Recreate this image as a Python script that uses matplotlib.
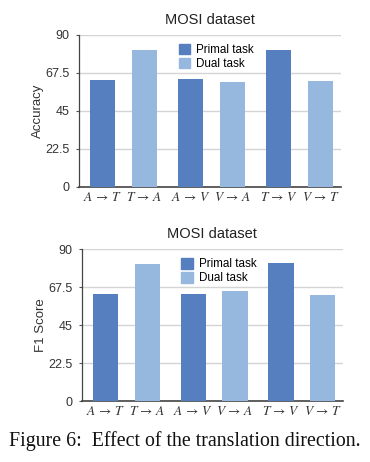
import numpy as np
import matplotlib
matplotlib.use("Agg")
import matplotlib.pyplot as plt
from matplotlib.patches import Patch

plt.rcParams['font.family'] = ['Liberation Sans', 'DejaVu Sans']
plt.rcParams['mathtext.fontset'] = 'stix'

directions = [r'$A\,\rightarrow\,T$', r'$T\,\rightarrow\,A$', r'$A\,\rightarrow\,V$',
              r'$V\,\rightarrow\,A$', r'$T\,\rightarrow\,V$', r'$V\,\rightarrow\,T$']
task = ['primal', 'dual', 'primal', 'dual', 'primal', 'dual']
accuracy = [63.2, 80.9, 63.8, 62.0, 80.9, 62.6]
f1_score = [63.4, 81.1, 63.4, 65.1, 81.7, 62.8]
yticks = [0, 22.5, 45, 67.5, 90]
yticklabels = ['0', '22.5', '45', '67.5', '90']

primal_color = '#567fbf'
dual_color = '#96b8df'

# pairs of bars, a bit more space between pairs
x = np.array([i // 2 * 2.1 + i % 2 for i in range(len(directions))])
colors = [primal_color if t == 'primal' else dual_color for t in task]

fig = plt.figure(figsize=(3.7, 4.62), dpi=100)
ax1 = fig.add_axes([0.2135, 0.596, 0.708, 0.329])
ax2 = fig.add_axes([0.2216, 0.132, 0.705, 0.329])

for ax, vals, ylabel in [(ax1, accuracy, 'Accuracy'), (ax2, f1_score, 'F1 Score')]:
    ax.bar(x, vals, width=0.6, color=colors, zorder=3)
    ax.set_xlim(-0.56, 5.68)
    ax.set_ylim(0, 90)
    ax.set_yticks(yticks)
    ax.set_yticklabels(yticklabels, fontsize=9, color='#333333')
    ax.set_xticks(x)
    ax.set_xticklabels(directions, fontsize=9.6, color='#333333')
    ax.tick_params(axis='x', length=0, pad=3)
    ax.tick_params(axis='y', length=2, width=0.8, color='#555555', pad=5)
    ax.grid(axis='y', color='#d4d4d4', linewidth=1, zorder=0)
    for s in ['top', 'right']:
        ax.spines[s].set_visible(False)
    ax.spines['left'].set_color('#444444')
    ax.spines['bottom'].set_color('#444444')
    ax.spines['left'].set_linewidth(0.9)
    ax.spines['bottom'].set_linewidth(1.2)
    ax.set_ylabel(ylabel, fontsize=9.5, color='#333333', labelpad=1)
    ax.set_title('MOSI dataset', fontsize=10.5, color='#222222', pad=8)
    handles = [Patch(color=primal_color), Patch(color=dual_color)]
    ax.legend(handles, ['Primal task', 'Dual task'], loc='upper left',
              bbox_to_anchor=(0.38, 0.94), frameon=False, fontsize=8.4,
              handlelength=1.0, handleheight=1.0, handletextpad=0.5,
              labelspacing=0.15, borderpad=0, borderaxespad=0)

fig.text(0.5, 0.045, 'Figure 6:  Effect of the translation direction.',
         ha='center', va='center', fontsize=14.3, family='Liberation Serif',
         color='#111111')

fig.savefig('out.png', dpi=100)
